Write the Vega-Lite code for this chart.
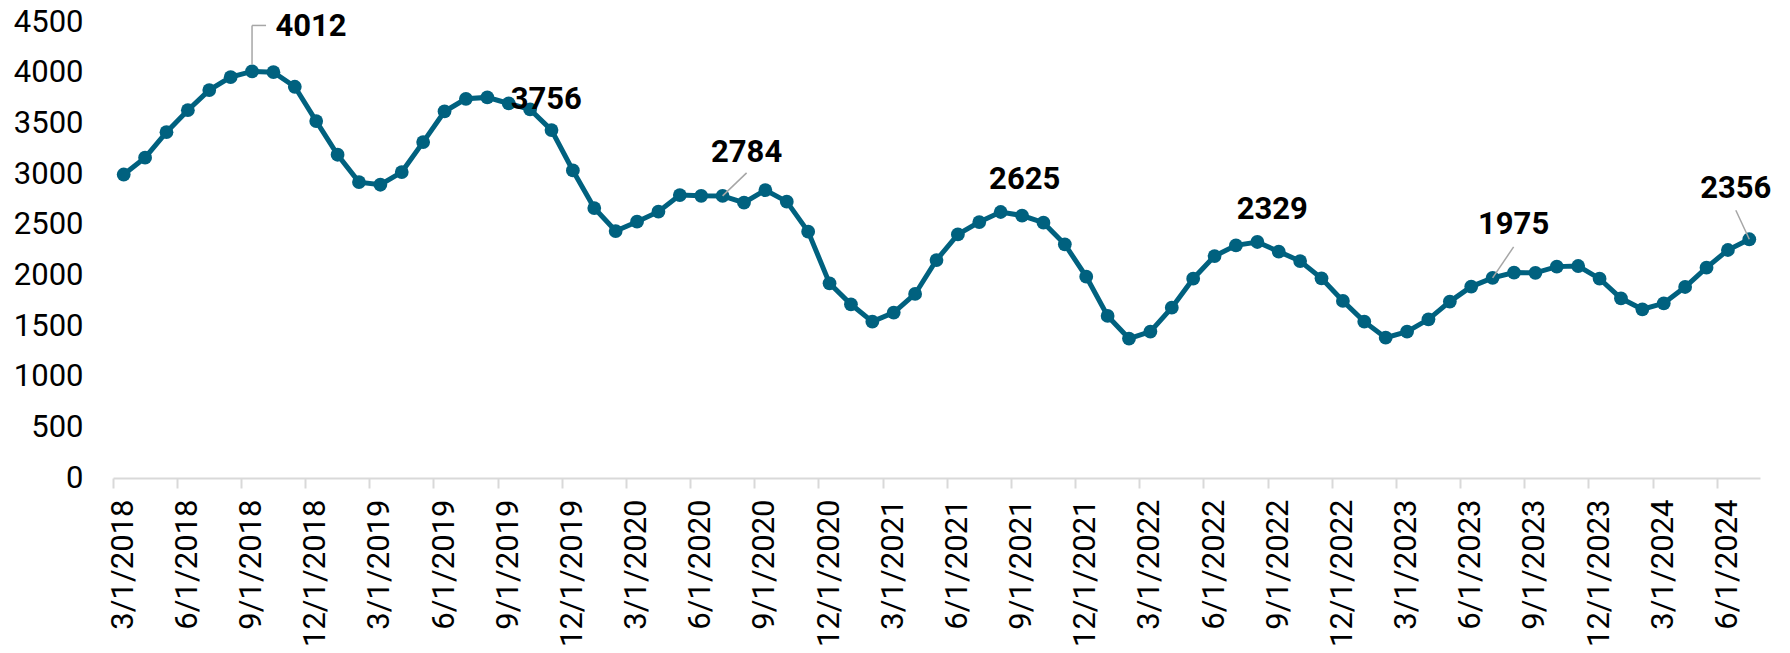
{
  "$schema": "https://vega.github.io/schema/vega-lite/v6.json",
  "autosize": {"type": "none"},
  "padding": {"left": 113, "top": 22, "right": 30, "bottom": 175},
  "width": 1647,
  "height": 456,
  "background": "white",
  "config": {"view": {"stroke": null}, "font": "Roboto"},
  "data": {"values": [
    {"date": "3/1/2018", "value": 2995},
    {"date": "4/1/2018", "value": 3161},
    {"date": "5/1/2018", "value": 3413},
    {"date": "6/1/2018", "value": 3630},
    {"date": "7/1/2018", "value": 3828},
    {"date": "8/1/2018", "value": 3956},
    {"date": "9/1/2018", "value": 4012},
    {"date": "10/1/2018", "value": 4005},
    {"date": "11/1/2018", "value": 3861},
    {"date": "12/1/2018", "value": 3522},
    {"date": "1/1/2019", "value": 3190},
    {"date": "2/1/2019", "value": 2920},
    {"date": "3/1/2019", "value": 2894},
    {"date": "4/1/2019", "value": 3019},
    {"date": "5/1/2019", "value": 3315},
    {"date": "6/1/2019", "value": 3617},
    {"date": "7/1/2019", "value": 3742},
    {"date": "8/1/2019", "value": 3756},
    {"date": "9/1/2019", "value": 3696},
    {"date": "10/1/2019", "value": 3637},
    {"date": "11/1/2019", "value": 3433},
    {"date": "12/1/2019", "value": 3035},
    {"date": "1/1/2020", "value": 2664},
    {"date": "2/1/2020", "value": 2437},
    {"date": "3/1/2020", "value": 2529},
    {"date": "4/1/2020", "value": 2628},
    {"date": "5/1/2020", "value": 2792},
    {"date": "6/1/2020", "value": 2785},
    {"date": "7/1/2020", "value": 2784},
    {"date": "8/1/2020", "value": 2717},
    {"date": "9/1/2020", "value": 2841},
    {"date": "10/1/2020", "value": 2727},
    {"date": "11/1/2020", "value": 2431},
    {"date": "12/1/2020", "value": 1921},
    {"date": "1/1/2021", "value": 1714},
    {"date": "2/1/2021", "value": 1543},
    {"date": "3/1/2021", "value": 1632},
    {"date": "4/1/2021", "value": 1816},
    {"date": "5/1/2021", "value": 2151},
    {"date": "6/1/2021", "value": 2404},
    {"date": "7/1/2021", "value": 2526},
    {"date": "8/1/2021", "value": 2625},
    {"date": "9/1/2021", "value": 2590},
    {"date": "10/1/2021", "value": 2520},
    {"date": "11/1/2021", "value": 2306},
    {"date": "12/1/2021", "value": 1987},
    {"date": "1/1/2022", "value": 1599},
    {"date": "2/1/2022", "value": 1376},
    {"date": "3/1/2022", "value": 1445},
    {"date": "4/1/2022", "value": 1681},
    {"date": "5/1/2022", "value": 1967},
    {"date": "6/1/2022", "value": 2190},
    {"date": "7/1/2022", "value": 2296},
    {"date": "8/1/2022", "value": 2329},
    {"date": "9/1/2022", "value": 2234},
    {"date": "10/1/2022", "value": 2141},
    {"date": "11/1/2022", "value": 1970},
    {"date": "12/1/2022", "value": 1747},
    {"date": "1/1/2023", "value": 1543},
    {"date": "2/1/2023", "value": 1385},
    {"date": "3/1/2023", "value": 1445},
    {"date": "4/1/2023", "value": 1566},
    {"date": "5/1/2023", "value": 1741},
    {"date": "6/1/2023", "value": 1889},
    {"date": "7/1/2023", "value": 1975},
    {"date": "8/1/2023", "value": 2027},
    {"date": "9/1/2023", "value": 2025},
    {"date": "10/1/2023", "value": 2086},
    {"date": "11/1/2023", "value": 2092},
    {"date": "12/1/2023", "value": 1967},
    {"date": "1/1/2024", "value": 1773},
    {"date": "2/1/2024", "value": 1665},
    {"date": "3/1/2024", "value": 1724},
    {"date": "4/1/2024", "value": 1885},
    {"date": "5/1/2024", "value": 2076},
    {"date": "6/1/2024", "value": 2250},
    {"date": "7/1/2024", "value": 2356}
  ]},
  "encoding": {
    "x": {
      "field": "date", "type": "ordinal", "sort": null,
      "scale": {"type": "band", "paddingInner": 0, "paddingOuter": 0},
      "axis": {
        "title": null,
        "values": ["3/1/2018","6/1/2018","9/1/2018","12/1/2018","3/1/2019","6/1/2019","9/1/2019","12/1/2019","3/1/2020","6/1/2020","9/1/2020","12/1/2020","3/1/2021","6/1/2021","9/1/2021","12/1/2021","3/1/2022","6/1/2022","9/1/2022","12/1/2022","3/1/2023","6/1/2023","9/1/2023","12/1/2023","3/1/2024","6/1/2024"],
        "bandPosition": 0,
        "labelAngle": 270,
        "labelFont": "Roboto",
        "labelFontSize": 31,
        "labelColor": "#000000",
        "labelPadding": 11,
        "labelOverlap": false,
        "tickSize": 10,
        "tickWidth": 2,
        "tickColor": "#d9d9d9",
        "domainColor": "#d9d9d9",
        "domainWidth": 2,
        "grid": false
      }
    },
    "y": {
      "field": "value", "type": "quantitative",
      "scale": {"domain": [0, 4500], "nice": false},
      "axis": {
        "title": null,
        "values": [0,500,1000,1500,2000,2500,3000,3500,4000,4500],
        "format": "d",
        "ticks": false,
        "tickSize": 0,
        "domain": false,
        "grid": false,
        "labelFont": "Roboto",
        "labelFontSize": 31,
        "labelColor": "#000000",
        "labelPadding": 30
      }
    }
  },
  "layer": [
    {"mark": {"type": "line", "color": "#00617F", "strokeWidth": 5}},
    {"mark": {"type": "point", "filled": true, "opacity": 1, "color": "#00617F", "size": 190}},
    {
      "transform": [{"filter": "datum.date == '9/1/2018'"}],
      "mark": {"type": "rule", "color": "#a6a6a6", "strokeWidth": 1.5, "yOffset": -7, "y2Offset": -46},
      "encoding": {"x2": {"field": "date", "bandPosition": 0.5}, "y2": {"field": "value"}}
    },
    {
      "transform": [{"filter": "datum.date == '9/1/2018'"}],
      "mark": {"type": "rule", "color": "#a6a6a6", "strokeWidth": 1.5, "yOffset": -46, "y2Offset": -46, "x2Offset": 14},
      "encoding": {"x2": {"field": "date", "bandPosition": 0.5}, "y2": {"field": "value"}}
    },
    {
      "transform": [{"filter": "datum.date == '7/1/2020'"}],
      "mark": {"type": "rule", "color": "#a6a6a6", "strokeWidth": 1.5, "x2Offset": 24, "y2Offset": -23},
      "encoding": {"x2": {"field": "date", "bandPosition": 0.5}, "y2": {"field": "value"}}
    },
    {
      "transform": [{"filter": "datum.date == '7/1/2023'"}],
      "mark": {"type": "rule", "color": "#a6a6a6", "strokeWidth": 1.5, "x2Offset": 21, "y2Offset": -31},
      "encoding": {"x2": {"field": "date", "bandPosition": 0.5}, "y2": {"field": "value"}}
    },
    {
      "transform": [{"filter": "datum.date == '7/1/2024'"}],
      "mark": {"type": "rule", "color": "#a6a6a6", "strokeWidth": 1.5, "x2Offset": -13.5, "y2Offset": -29},
      "encoding": {"x2": {"field": "date", "bandPosition": 0.5}, "y2": {"field": "value"}}
    },
    {
      "transform": [{"filter": "datum.date == '9/1/2018'"}],
      "mark": {"type": "text", "font": "Roboto", "fontWeight": "bold", "fontSize": 31, "color": "#000000", "align": "center", "baseline": "alphabetic", "dx": 59, "dy": -35},
      "encoding": {"text": {"field": "value", "type": "quantitative", "format": "d"}}
    },
    {
      "transform": [{"filter": "datum.date == '8/1/2019'"}],
      "mark": {"type": "text", "font": "Roboto", "fontWeight": "bold", "fontSize": 31, "color": "#000000", "align": "center", "baseline": "alphabetic", "dx": 59, "dy": 12},
      "encoding": {"text": {"field": "value", "type": "quantitative", "format": "d"}}
    },
    {
      "transform": [{"filter": "datum.date == '7/1/2020'"}],
      "mark": {"type": "text", "font": "Roboto", "fontWeight": "bold", "fontSize": 31, "color": "#000000", "align": "center", "baseline": "alphabetic", "dx": 24, "dy": -34},
      "encoding": {"text": {"field": "value", "type": "quantitative", "format": "d"}}
    },
    {
      "transform": [{"filter": "datum.date == '8/1/2021'"}],
      "mark": {"type": "text", "font": "Roboto", "fontWeight": "bold", "fontSize": 31, "color": "#000000", "align": "center", "baseline": "alphabetic", "dx": 24, "dy": -23},
      "encoding": {"text": {"field": "value", "type": "quantitative", "format": "d"}}
    },
    {
      "transform": [{"filter": "datum.date == '8/1/2022'"}],
      "mark": {"type": "text", "font": "Roboto", "fontWeight": "bold", "fontSize": 31, "color": "#000000", "align": "center", "baseline": "alphabetic", "dx": 15, "dy": -23},
      "encoding": {"text": {"field": "value", "type": "quantitative", "format": "d"}}
    },
    {
      "transform": [{"filter": "datum.date == '7/1/2023'"}],
      "mark": {"type": "text", "font": "Roboto", "fontWeight": "bold", "fontSize": 31, "color": "#000000", "align": "center", "baseline": "alphabetic", "dx": 21, "dy": -44},
      "encoding": {"text": {"field": "value", "type": "quantitative", "format": "d"}}
    },
    {
      "transform": [{"filter": "datum.date == '7/1/2024'"}],
      "mark": {"type": "text", "font": "Roboto", "fontWeight": "bold", "fontSize": 31, "color": "#000000", "align": "center", "baseline": "alphabetic", "dx": -13.5, "dy": -41},
      "encoding": {"text": {"field": "value", "type": "quantitative", "format": "d"}}
    }
  ]
}
